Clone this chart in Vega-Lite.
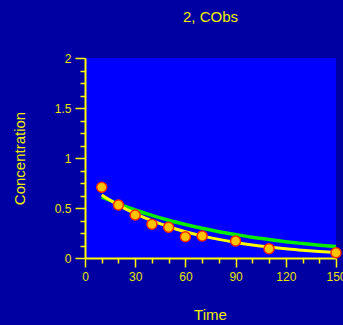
{
  "$schema": "https://vega.github.io/schema/vega-lite/v6.json",
  "autosize": "none",
  "width": 251,
  "height": 200,
  "padding": {"left": 85, "top": 58, "right": 7, "bottom": 67},
  "background": "#0000A2",
  "view": {"fill": "#0000FF", "stroke": null},
  "title": {
    "text": "2, CObs",
    "font": "Liberation Sans",
    "fontSize": 15,
    "fontWeight": "normal",
    "color": "#F0F000",
    "anchor": "middle",
    "frame": "group",
    "baseline": "alphabetic",
    "offset": 15
  },
  "datasets": {
    "obs": [
      {"Time": 10, "C": 0.707},
      {"Time": 20, "C": 0.53},
      {"Time": 30, "C": 0.43},
      {"Time": 40, "C": 0.337},
      {"Time": 50, "C": 0.307},
      {"Time": 60, "C": 0.213},
      {"Time": 70, "C": 0.22},
      {"Time": 90, "C": 0.17},
      {"Time": 110, "C": 0.093},
      {"Time": 150, "C": 0.053}
    ],
    "curves": [
      {"Time": 10, "C": 0.630, "s": "yellow"},
      {"Time": 20, "C": 0.529, "s": "yellow"},
      {"Time": 30, "C": 0.444, "s": "yellow"},
      {"Time": 40, "C": 0.373, "s": "yellow"},
      {"Time": 50, "C": 0.313, "s": "yellow"},
      {"Time": 60, "C": 0.263, "s": "yellow"},
      {"Time": 70, "C": 0.221, "s": "yellow"},
      {"Time": 80, "C": 0.186, "s": "yellow"},
      {"Time": 90, "C": 0.156, "s": "yellow"},
      {"Time": 100, "C": 0.131, "s": "yellow"},
      {"Time": 110, "C": 0.110, "s": "yellow"},
      {"Time": 120, "C": 0.092, "s": "yellow"},
      {"Time": 130, "C": 0.078, "s": "yellow"},
      {"Time": 140, "C": 0.065, "s": "yellow"},
      {"Time": 150, "C": 0.055, "s": "yellow"},
      {"Time": 10, "C": 0.610, "s": "green"},
      {"Time": 20, "C": 0.541, "s": "green"},
      {"Time": 30, "C": 0.480, "s": "green"},
      {"Time": 40, "C": 0.426, "s": "green"},
      {"Time": 50, "C": 0.377, "s": "green"},
      {"Time": 60, "C": 0.335, "s": "green"},
      {"Time": 70, "C": 0.297, "s": "green"},
      {"Time": 80, "C": 0.263, "s": "green"},
      {"Time": 90, "C": 0.234, "s": "green"},
      {"Time": 100, "C": 0.207, "s": "green"},
      {"Time": 110, "C": 0.184, "s": "green"},
      {"Time": 120, "C": 0.163, "s": "green"},
      {"Time": 130, "C": 0.145, "s": "green"},
      {"Time": 140, "C": 0.128, "s": "green"},
      {"Time": 150, "C": 0.114, "s": "green"}
    ]
  },
  "encoding": {
    "x": {
      "field": "Time",
      "type": "quantitative",
      "scale": {"domain": [0, 150], "nice": false, "zero": false},
      "axis": {
        "title": "Time",
        "values": [0, 10, 20, 30, 40, 50, 60, 70, 80, 90, 100, 110, 120, 130, 140, 150],
        "labelExpr": "datum.value % 30 === 0 ? datum.label : ''",
        "grid": false,
        "domainColor": "#FFFF00",
        "domainWidth": 2,
        "tickColor": "#FFFF00",
        "tickWidth": 1.5,
        "tickSize": {"condition": {"test": "datum.value % 30 === 0", "value": 9}, "value": 5},
        "labelPadding": 4,
        "labelFont": "Liberation Sans",
        "labelFontSize": 12,
        "labelColor": "#E6E600",
        "labelFlush": false,
        "labelOverlap": false,
        "titleFont": "Liberation Sans",
        "titleFontSize": 15,
        "titleFontWeight": "normal",
        "titleColor": "#F0F000",
        "titleX": 125,
        "titleY": 61,
        "titleBaseline": "alphabetic",
        "titleAnchor": null,
        "titleAlign": "center"
      }
    },
    "y": {
      "field": "C",
      "type": "quantitative",
      "scale": {"domain": [0, 2], "nice": false},
      "axis": {
        "title": "Concentration",
        "values": [0, 0.125, 0.25, 0.375, 0.5, 0.625, 0.75, 0.875, 1, 1.125, 1.25, 1.375, 1.5, 1.625, 1.75, 1.875, 2],
        "labelExpr": "datum.value % 0.5 === 0 ? format(datum.value, '~g') : ''",
        "grid": false,
        "domainColor": "#FFFF00",
        "domainWidth": 2,
        "tickColor": "#FFFF00",
        "tickWidth": 1.5,
        "tickSize": {"condition": {"test": "datum.value % 0.5 === 0", "value": 10}, "value": 5},
        "labelPadding": 4,
        "labelFont": "Liberation Sans",
        "labelFontSize": 12,
        "labelColor": "#E6E600",
        "labelFlush": false,
        "labelOverlap": false,
        "titleFont": "Liberation Sans",
        "titleFontSize": 15,
        "titleFontWeight": "normal",
        "titleColor": "#F0F000",
        "titleX": -58,
        "titleY": 100,
        "titleAngle": 270,
        "titleBaseline": "bottom",
        "titleAlign": "center",
        "titleAnchor": null
      }
    }
  },
  "layer": [
    {
      "data": {"name": "curves"},
      "transform": [{"filter": "datum.s === 'green'"}],
      "mark": {"type": "line", "color": "#00EE00", "strokeWidth": 3.5, "interpolate": "monotone"}
    },
    {
      "data": {"name": "curves"},
      "transform": [{"filter": "datum.s === 'yellow'"}],
      "mark": {"type": "line", "color": "#FFFF00", "strokeWidth": 3, "interpolate": "monotone"}
    },
    {
      "data": {"name": "obs"},
      "mark": {"type": "point", "filled": true, "fill": "#FFC400", "stroke": "#FF2A00", "strokeWidth": 1.5, "size": 100, "opacity": 1}
    }
  ]
}
